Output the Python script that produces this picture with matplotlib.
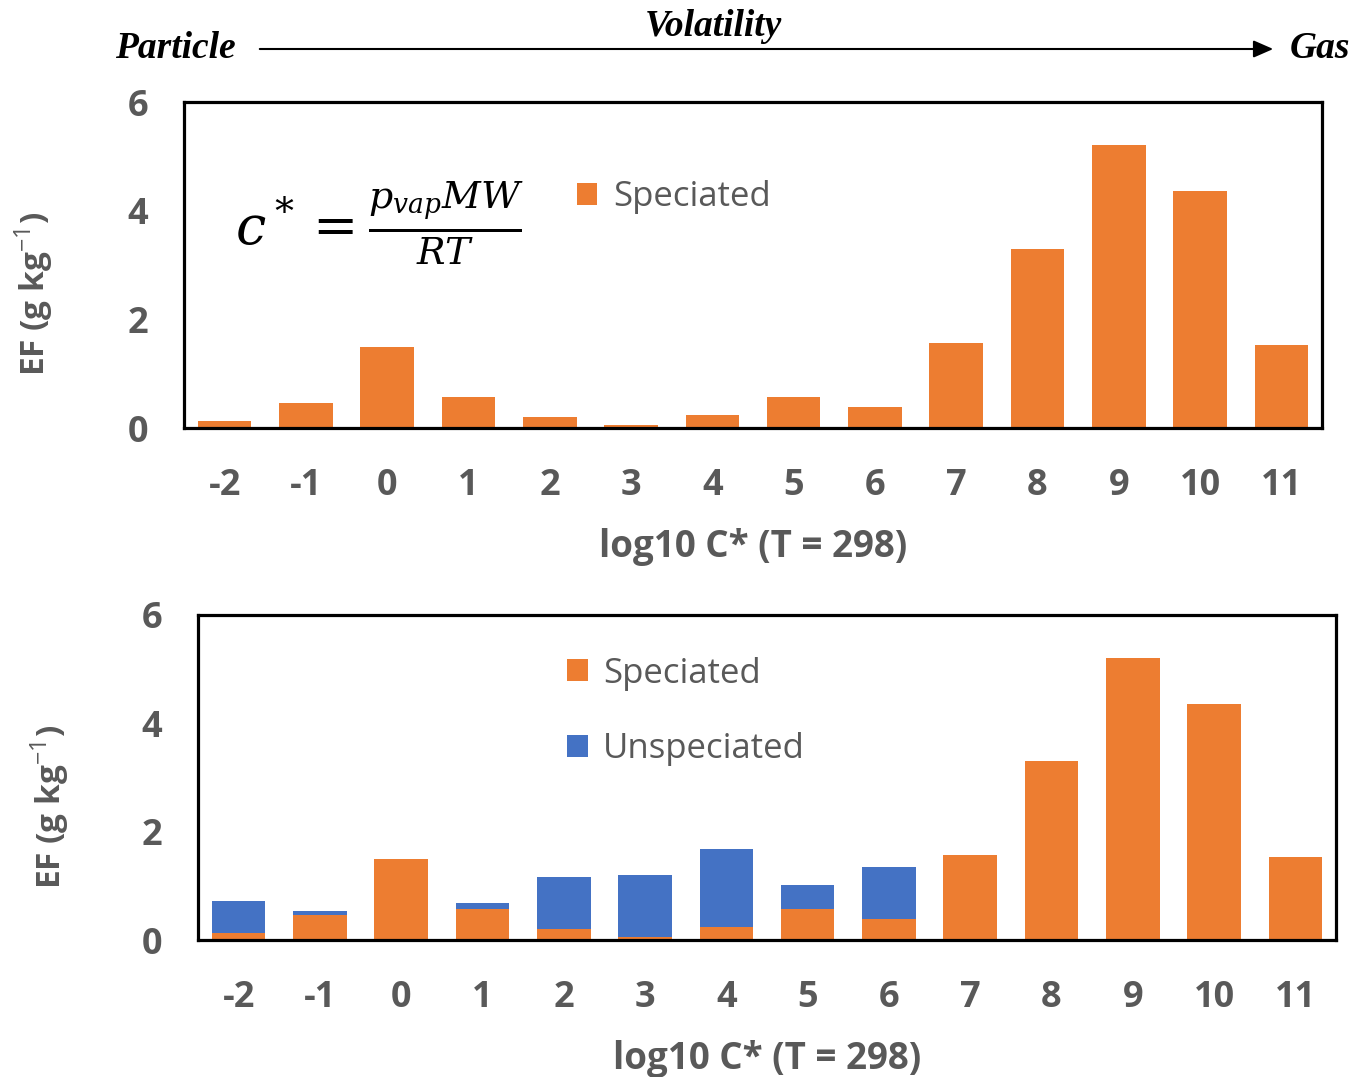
import numpy as np
import matplotlib
matplotlib.use("Agg")
import matplotlib.pyplot as plt
from matplotlib.patches import FancyArrowPatch

# volatility bins, log10 C* at 298 K
bins = ["-2", "-1", "0", "1", "2", "3", "4", "5", "6", "7", "8", "9", "10", "11"]
speciated = [0.13, 0.46, 1.49, 0.57, 0.20, 0.06, 0.24, 0.57, 0.39, 1.57, 3.30, 5.21, 4.36, 1.53]
unspeciated = [0.59, 0.08, 0.0, 0.11, 0.96, 1.14, 1.44, 0.44, 0.96, 0.0, 0.0, 0.0, 0.0, 0.0]
yticks = [0, 2, 4, 6]

ORANGE = "#ED7D31"
BLUE = "#4472C4"
GRAY = "#595959"
FONT = "Open Sans"

plt.rcParams["mathtext.fontset"] = "custom"
plt.rcParams["mathtext.rm"] = "Open Sans"
plt.rcParams["mathtext.bf"] = "Open Sans:bold"

W, H = 1355, 1077
fig = plt.figure(figsize=(W / 100, H / 100), dpi=100)


def px_axes(x0, y0, x1, y1):
    return fig.add_axes([x0 / W, 1 - y1 / H, (x1 - x0) / W, (y1 - y0) / H])


def style(ax):
    x = np.arange(len(bins))
    ax.set_xlim(-0.5, len(bins) - 0.5)
    ax.set_ylim(0, 6)
    ax.set_xticks(x)
    ax.set_xticklabels(bins)
    ax.set_yticks(yticks)
    ax.tick_params(length=0, pad=29, labelsize=26, labelcolor=GRAY)
    ax.tick_params(axis="y", pad=26)
    for lab in ax.get_xticklabels() + ax.get_yticklabels():
        lab.set_fontfamily(FONT)
        lab.set_fontweight("bold")
    for s in ax.spines.values():
        s.set_linewidth(2.3)
        s.set_color("black")
    ax.axhline(0, color="#D9D9D9", lw=1.5, zorder=1)
    ax.set_xlabel("log10 C* (T = 298)", fontsize=26.5, fontweight="bold",
                  color=GRAY, family=FONT, labelpad=17)
    ax.set_ylabel(r"EF (g kg$^{\mathrm{-1}}$)", fontsize=24, fontweight="bold",
                  color=GRAY, family=FONT)
    return x


legend_kw = dict(frameon=False, prop={"family": FONT, "size": 25},
                 labelcolor=GRAY, handlelength=0.6, handleheight=0.6,
                 handletextpad=0.45, borderpad=0, borderaxespad=0,
                 loc="center left")

# top panel: speciated only
ax1 = px_axes(184, 102, 1322, 428)
x = style(ax1)
ax1.bar(x, speciated, width=0.66, color=ORANGE, zorder=2, label="Speciated")
ax1.yaxis.set_label_coords(-0.113, 0.41)
ax1.text(0.172, 0.63, r"$c^* = \frac{p_{vap}MW}{RT}$", transform=ax1.transAxes,
         fontsize=39, ha="center", va="center", math_fontfamily="dejavuserif")
ax1.legend(bbox_to_anchor=(0.345, 0.709), **legend_kw)

# bottom panel: speciated + unspeciated stacked
ax2 = px_axes(198, 615, 1336, 940)
x = style(ax2)
ax2.bar(x, speciated, width=0.66, color=ORANGE, zorder=2, label="Speciated")
ax2.bar(x, unspeciated, width=0.66, bottom=speciated, color=BLUE, zorder=2,
        label="Unspeciated")
ax2.yaxis.set_label_coords(-0.112, 0.41)
ax2.legend(bbox_to_anchor=(0.324, 0.703), labelspacing=1.2, **legend_kw)

# volatility arrow across the top
tfont = dict(family="Liberation Serif", style="italic", weight="bold",
             fontsize=27, color="black")
fig.text(175 / W, 1 - 49 / H, "Particle", ha="center", va="center", **tfont)
fig.text(713 / W, 1 - 27 / H, "Volatility", ha="center", va="center", **tfont)
fig.text(1320 / W, 1 - 49 / H, "Gas", ha="center", va="center", **tfont)
fig.add_artist(FancyArrowPatch(
    (257 / W, 1 - 49 / H), (1276 / W, 1 - 49 / H), transform=fig.transFigure,
    arrowstyle="-|>,head_length=0.8,head_width=0.35", lw=1.5, color="black",
    mutation_scale=15))

fig.savefig("out.png", dpi=100)
